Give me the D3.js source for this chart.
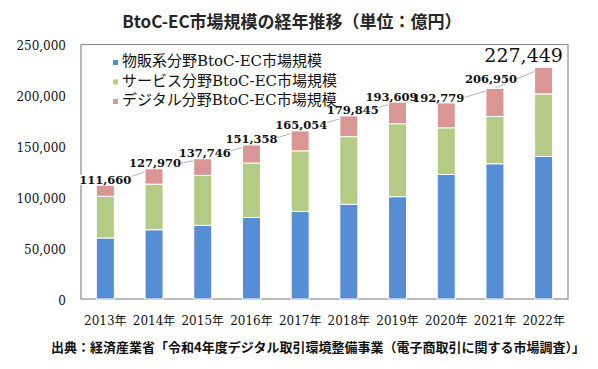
<!DOCTYPE html>
<html><head><meta charset="utf-8">
<script src="https://cdn.jsdelivr.net/npm/d3@7"></script>
<style>
html,body{margin:0;padding:0;background:#fff;}
svg{display:block;}
</style></head>
<body>
<svg id="chart" width="598" height="369"></svg>
<script>
// ---- data ----
const years = ["2013年","2014年","2015年","2016年","2017年","2018年","2019年","2020年","2021年","2022年"];
const goods    = [59931, 68043, 72398, 80043, 86008, 92992, 100515, 122333, 132865, 139997];
const services = [40971, 44816, 49014, 53532, 59568, 66471, 71672, 45832, 46424, 61477];
const digital  = [10758, 15111, 16334, 17783, 19478, 20382, 21422, 24614, 27661, 25975];
const seriesNames = ["物販系分野BtoC-EC市場規模","サービス分野BtoC-EC市場規模","デジタル分野BtoC-EC市場規模"];
const yTicks = [0, 50000, 100000, 150000, 200000, 250000];
const title = "BtoC-EC市場規模の経年推移（単位：億円）";
const source = "出典：経済産業省「令和4年度デジタル取引環境整備事業（電子商取引に関する市場調査）」";

// ---- layout / style (not data) ----
const colors = ["#558ED5", "#B3CB84", "#D99694"];
const labelNudge = [[0,0],[1,0],[2,0],[0,0],[1,0],[4,0],[-6,1],[-8,1],[-4,-4],[-20,-4]];
const serif = "'DejaVu Serif','Noto Sans CJK JP',serif";
const cjk = "'Noto Sans CJK JP','Noto Sans',sans-serif";

const svg = d3.select("#chart");
const x = d3.scaleBand().domain(years).range([81, 568]).paddingInner(0.63).paddingOuter(0.315);
const y = d3.scaleLinear().domain([0, 250000]).range([299, 44.5]);

// title
svg.append("text").attr("x", 292).attr("y", 28).attr("text-anchor", "middle")
  .attr("font-family", cjk).attr("font-weight", "bold").attr("font-size", 17)
  .attr("fill", "#262626").text(title);

// plot frame
svg.append("rect").attr("x", 81).attr("y", y(250000)).attr("width", 568-81).attr("height", y(0)-y(250000))
  .attr("fill", "none").attr("stroke", "#8c8c8c").attr("stroke-width", 1.2);

// y axis labels
const yAxis = d3.axisLeft(y).tickValues(yTicks).tickSize(0).tickPadding(15).tickFormat(d3.format(","));
const gy = svg.append("g").attr("transform", "translate(81,0)").call(yAxis);
gy.select(".domain").remove();
gy.selectAll("text").attr("font-family", serif).attr("font-size", 12).attr("fill", "#111").attr("dy", "0.45em");

// x axis labels
const xAxis = d3.axisBottom(x).tickSize(0).tickPadding(17);
const gx = svg.append("g").attr("transform", "translate(0,299)").call(xAxis);
gx.select(".domain").remove();
gx.selectAll("text").attr("font-family", serif).attr("font-size", 12).attr("fill", "#111");

// stacked data
const rows = years.map((yr, i) => ({year: yr, s0: goods[i], s1: services[i], s2: digital[i]}));
const stack = d3.stack().keys(["s0","s1","s2"])(rows);
const totals = rows.map(r => r.s0 + r.s1 + r.s2);

// total connecting line (behind bars and labels)
const line = d3.line().x((d, i) => x(years[i]) + x.bandwidth()/2).y(d => y(d));
svg.append("path").datum(totals).attr("d", line).attr("fill", "none")
  .attr("stroke", "#b5b5b5").attr("stroke-width", 1);

// bars
svg.append("g").selectAll("g").data(stack).join("g")
  .attr("fill", (d, i) => colors[i])
  .selectAll("rect").data(d => d).join("rect")
  .attr("x", d => x(d.data.year))
  .attr("width", x.bandwidth())
  .attr("y", d => y(d[1]))
  .attr("height", d => y(d[0]) - y(d[1]))
  .attr("stroke", "#ffffff").attr("stroke-width", 1);

// total labels with white background
const fmt = d3.format(",");
const lg = svg.append("g");
totals.forEach((t, i) => {
  const big = i === totals.length - 1;
  const fs = big ? 19 : 11.5;
  const cx = x(years[i]) + x.bandwidth()/2 + labelNudge[i][0];
  const by = y(t) - 1.5 + labelNudge[i][1];
  const txt = lg.append("text").attr("x", cx).attr("y", by).attr("text-anchor", "middle")
    .attr("font-family", serif).attr("font-size", fs).attr("font-weight", big ? "normal" : "bold")
    .attr("fill", "#111").text(fmt(t));
  const bb = txt.node().getBBox();
  lg.insert("rect", "text").attr("x", bb.x).attr("y", by - fs*0.78).attr("width", bb.width)
    .attr("height", fs*0.78 + 1).attr("fill", "#fff");
});

// legend
const leg = svg.append("g");
seriesNames.forEach((name, i) => {
  const ly = 61 + i * 19.5;
  leg.append("rect").attr("x", 113).attr("y", ly - 1).attr("width", 5).attr("height", 5).attr("fill", colors[i]);
  leg.append("text").attr("x", 122).attr("y", ly + 5).attr("font-family", serif)
    .attr("font-size", 15).attr("fill", "#111").text(name);
});

// source
svg.append("text").attr("x", 51).attr("y", 352).attr("font-family", cjk).attr("font-weight", "bold")
  .attr("font-size", 13).attr("fill", "#111").text(source);
</script>
</body></html>
